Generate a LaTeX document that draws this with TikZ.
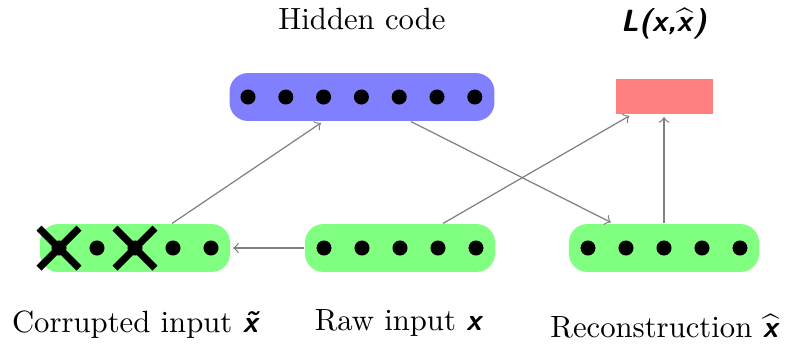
\documentclass[tikz,border=0pt]{standalone}
\usetikzlibrary{calc}
\newcommand\bsx{\textsf{\bfseries\itshape x}}
\begin{document}
\begin{tikzpicture}[x=0.3257pt,y=-0.3257pt,
  bar/.style={rounded corners=6pt, minimum height=15.6pt, inner sep=0pt},
  bar5/.style={bar, fill=green!50, minimum width=61.9pt},
  dot/.style={circle, fill=black, inner sep=0pt, minimum size=4.9pt},
  conn/.style={draw=gray, line width=0.4pt, ->, shorten >=0.8pt},
  cross/.style={line width=2.3pt, black},
  lbl/.style={anchor=base, inner sep=0pt}]
\useasboundingbox (0,0) rectangle (785,345);
% bars
\node[bar, fill=blue!50, minimum width=86.3pt] (hid) at (362,97) {};
\node[fill=red!50, minimum width=31.6pt, minimum height=11.4pt, inner sep=0pt] (loss) at (664.5,96.5) {};
\node[bar5] (corr) at (135,248) {};
\node[bar5] (raw) at (400,248) {};
\node[bar5] (rec) at (664,248) {};
% dots
\foreach \i in {0,...,6} \node[dot] (h\i) at (248+\i*37.8,97) {};
\foreach \i in {0,...,4} {
  \node[dot] (c\i) at (59+\i*38,248) {};
  \node[dot] (r\i) at (324+\i*38,248) {};
  \node[dot] (e\i) at (588+\i*38,248) {};
}
% crosses
\foreach \n in {c0,c2} {
  \draw[cross] ($(\n)+(-20,-20)$) -- ($(\n)+(20,20)$);
  \draw[cross] ($(\n)+(-20,20)$) -- ($(\n)+(20,-20)$);
}
% connectors
\draw[conn] (raw.west) -- (corr.east);
\draw[conn] ($(corr.north)+(37,0)$) -- ($(hid.south)+(-39,0)$);
\draw[conn] ($(hid.south)+(49,0)$) -- ($(rec.north)+(-51,0)$);
\draw[conn] ($(raw.north)+(43,0)$) -- ($(loss.south)+(-33,0)$);
\draw[conn] (rec.north) -- (loss.south -| rec.north);
% labels
\node[lbl] (thid) at (362,29) {Hidden code};
\node[lbl] (tloss) at (664,31) {\textsf{\bfseries\itshape L(x,}{\boldmath$\widehat{\mbox{\bsx}}$}\textsf{\bfseries\itshape )}};
\node[lbl] (tcorr) at (136,332) {Corrupted input \textsf{\bfseries\itshape\~x}};
\node[lbl] (traw) at (399,330) {Raw input \bsx};
\node[lbl] (trec) at (665,337) {Reconstruction {\boldmath$\widehat{\mbox{\bsx}}$}};
\end{tikzpicture}
\end{document}
